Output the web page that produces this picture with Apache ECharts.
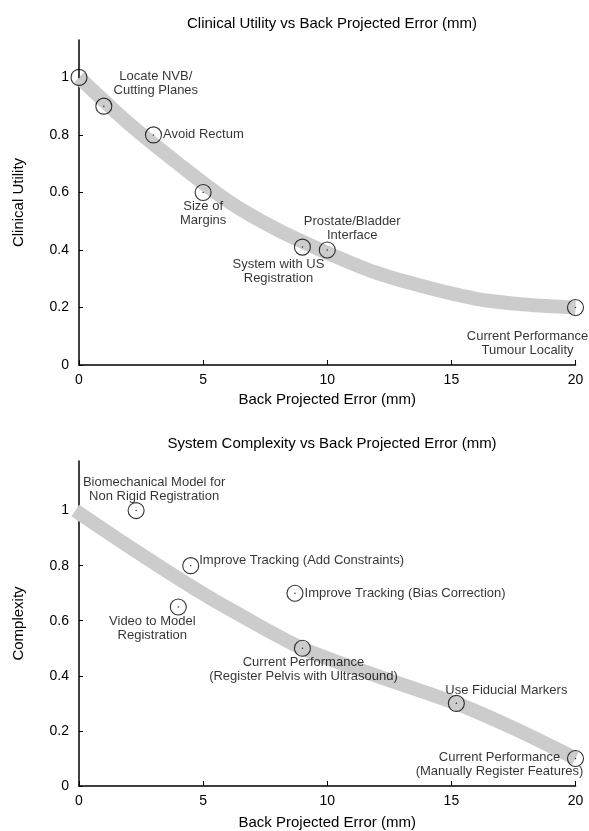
<!DOCTYPE html>
<html>
<head>
<meta charset="utf-8">
<script src="https://cdn.jsdelivr.net/npm/echarts@6/dist/echarts.min.js"></script>
<style>html,body{margin:0;padding:0;background:#fff}#c{width:589px;height:831px}</style>
</head>
<body>
<div id="c"></div>
<script>
// ---- Data ----
var xTicks = [0, 5, 10, 15, 20];
var yTicks = [0, 0.2, 0.4, 0.6, 0.8, 1];

// Top chart: Clinical Utility
var topTitle = 'Clinical Utility vs Back Projected Error (mm)';
var topYName = 'Clinical Utility';
var topCurveX = [0, 2, 4, 6, 8, 10, 12, 14, 16, 18, 20];
var topCurveY = [1.0, 0.84, 0.70, 0.57, 0.47, 0.39, 0.32, 0.27, 0.23, 0.21, 0.20];
var topPtsX = [0, 1, 3, 5, 9, 10, 20];
var topPtsY = [1.0, 0.9, 0.8, 0.6, 0.41, 0.4, 0.2];
var topPtsLabel = ['', 'Locate NVB/\nCutting Planes', 'Avoid Rectum', 'Size of\nMargins',
  'System with US\nRegistration', 'Prostate/Bladder\nInterface', 'Current Performance\nTumour Locality'];

// Bottom chart: System Complexity
var botTitle = 'System Complexity vs Back Projected Error (mm)';
var botYName = 'Complexity';
var botCurveX = [-0.15, 2, 4.6, 6.5, 9, 12, 15.2, 17.5, 20];
var botCurveY = [1.0, 0.87, 0.72, 0.62, 0.5, 0.4, 0.3, 0.21, 0.1];
var botPtsX = [2.3, 4.5, 8.7, 4.0, 9.0, 15.2, 20];
var botPtsY = [1.0, 0.8, 0.7, 0.65, 0.5, 0.3, 0.1];
var botPtsLabel = ['Biomechanical Model for\nNon Rigid Registration', 'Improve Tracking (Add Constraints)',
  'Improve Tracking (Bias Correction)', 'Video to Model\nRegistration',
  'Current Performance\n(Register Pelvis with Ultrasound)', 'Use Fiducial Markers',
  'Current Performance\n(Manually Register Features)'];

// ---- Layout/styling (not data) ----
var FONT = '"Liberation Sans", Arial, Helvetica, sans-serif';
var topLabelPlace = [
  null,
  {position: 'inside', offset: [52, -23]},
  {position: 'right', distance: 1, offset: [0, 0]},
  {position: 'inside', offset: [0, 21]},
  {position: 'inside', offset: [-24, 24]},
  {position: 'inside', offset: [25, -22]},
  {position: 'inside', offset: [-48, 36]}
];
var botLabelPlace = [
  {position: 'inside', offset: [18, -21]},
  {position: 'right', distance: 0, offset: [0, -5]},
  {position: 'right', distance: 1, offset: [0, 0]},
  {position: 'inside', offset: [-26, 21]},
  {position: 'inside', offset: [1, 21]},
  {position: 'inside', offset: [50, -13]},
  {position: 'inside', offset: [-76, 6]}
];

function zip(xs, ys) { return xs.map(function (x, i) { return [x, ys[i]]; }); }

function pointData(xs, ys, labels, places) {
  return xs.map(function (x, i) {
    var d = {value: [x, ys[i]]};
    if (labels[i]) {
      var p = places[i];
      d.label = {
        show: true, formatter: labels[i], position: p.position, offset: p.offset,
        distance: p.distance || 0, color: '#000', fontSize: 13, lineHeight: 14,
        fontFamily: FONT, align: p.position === 'right' ? 'left' : 'center'
      };
    }
    return d;
  });
}

function xAxis(gi) {
  return {
    type: 'value', gridIndex: gi, min: 0, max: 20, interval: 5,
    name: 'Back Projected Error (mm)', nameLocation: 'middle', nameGap: gi === 0 ? 27 : 29,
    nameTextStyle: {fontSize: 15, color: '#000', fontFamily: FONT},
    axisLine: {show: true, onZero: false, lineStyle: {color: '#000', width: 1.5}},
    axisTick: {show: true, inside: true, length: 5, lineStyle: {color: '#000', width: 1}},
    axisLabel: {fontSize: 14, color: '#000', margin: 8, fontFamily: FONT},
    splitLine: {show: false}
  };
}
function yAxis(gi, name, max) {
  return {
    type: 'value', gridIndex: gi, min: 0, max: max,
    name: name, nameLocation: 'middle', nameGap: 53,
    nameTextStyle: {fontSize: 15, color: '#000', fontFamily: FONT},
    axisLine: {show: true, onZero: false, lineStyle: {color: '#000', width: 1.5}},
    axisTick: {show: true, inside: true, length: 4, customValues: yTicks, lineStyle: {color: '#000', width: 1}},
    axisLabel: {fontSize: 14, color: '#000', margin: 10, fontFamily: FONT, customValues: yTicks,
      formatter: function (v) { return String(+v.toFixed(1)); }},
    splitLine: {show: false}
  };
}

function curve(gi, xs, ys) {
  return {
    type: 'line', xAxisIndex: gi, yAxisIndex: gi, data: zip(xs, ys), smooth: 0.3,
    showSymbol: false, clip: false, silent: true, z: 1,
    lineStyle: {color: '#cccccc', width: 14, cap: 'butt'}
  };
}
function circles(gi, xs, ys, labels, places) {
  return {
    type: 'scatter', xAxisIndex: gi, yAxisIndex: gi, data: pointData(xs, ys, labels, places),
    symbol: 'circle', symbolSize: 16, clip: false, z: 3,
    itemStyle: {color: 'rgba(255,255,255,0)', borderColor: '#000', borderWidth: 1.1},
    emphasis: {disabled: true}
  };
}
function dots(gi, xs, ys) {
  return {
    type: 'scatter', xAxisIndex: gi, yAxisIndex: gi, data: zip(xs, ys),
    symbol: 'circle', symbolSize: 1.5, z: 4, itemStyle: {color: '#000'}, silent: true
  };
}

var chart = echarts.init(document.getElementById('c'), null, {renderer: 'canvas'});
chart.setOption({
  animation: false,
  backgroundColor: '#fff',
  textStyle: {fontFamily: FONT},
  title: [
    {text: topTitle, left: 327, top: 11, textAlign: 'center',
      textStyle: {fontSize: 15, fontWeight: 'normal', color: '#000', fontFamily: FONT}},
    {text: botTitle, left: 327, top: 431, textAlign: 'center',
      textStyle: {fontSize: 15, fontWeight: 'normal', color: '#000', fontFamily: FONT}}
  ],
  grid: [
    {left: 79, top: 40, width: 496.5, height: 325, containLabel: false},
    {left: 79, top: 461, width: 496.5, height: 326, containLabel: false}
  ],
  xAxis: [xAxis(0), xAxis(1)],
  yAxis: [yAxis(0, topYName, 1.13), yAxis(1, botYName, 1.18)],
  series: [
    curve(0, topCurveX, topCurveY),
    circles(0, topPtsX, topPtsY, topPtsLabel, topLabelPlace),
    dots(0, topPtsX, topPtsY),
    curve(1, botCurveX, botCurveY),
    circles(1, botPtsX, botPtsY, botPtsLabel, botLabelPlace),
    dots(1, botPtsX, botPtsY)
  ]
});
</script>
</body>
</html>
